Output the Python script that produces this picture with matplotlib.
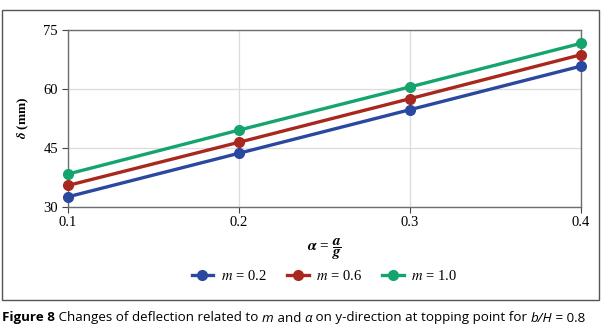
import matplotlib
matplotlib.use("Agg")
import matplotlib.pyplot as plt
from matplotlib.patches import Rectangle

plt.rcParams["font.family"] = ["Liberation Serif", "DejaVu Serif"]
plt.rcParams["mathtext.fontset"] = "stix"

alpha = [0.1, 0.2, 0.3, 0.4]
m02 = [32.5, 43.6, 54.7, 65.8]
m06 = [35.4, 46.4, 57.5, 68.7]
m10 = [38.3, 49.5, 60.5, 71.6]
labels = [r"$m$ = 0.2", r"$m$ = 0.6", r"$m$ = 1.0"]
colors = ["#2b48a0", "#a8281e", "#14a46e"]
yticks = [30, 45, 60, 75]
xticks = [0.1, 0.2, 0.3, 0.4]

# caption pieces: (text, weight, style)
caption = [("Figure 8", "bold", "normal"), (" Changes of deflection related to ", "normal", "normal"),
           ("m", "normal", "italic"), (" and ", "normal", "normal"), ("α", "normal", "italic"),
           (" on y-direction at topping point for ", "normal", "normal"), ("b/H", "normal", "italic"),
           (" = 0.8", "normal", "normal")]

fig = plt.figure(figsize=(6.03, 3.36), dpi=100)
ax = fig.add_axes([67.7 / 603, 1 - 206.7 / 336, (581 - 67.7) / 603, (206.7 - 30) / 336])

for ys, lab, c in zip([m02, m06, m10], labels, colors):
    ax.plot(alpha, ys, color=c, lw=2.4, marker="o", ms=7, label=lab, clip_on=False, zorder=3)

ax.set_xlim(0.1, 0.4)
ax.set_ylim(30, 75)
ax.set_xticks(xticks)
ax.set_xticklabels([str(x) for x in xticks])
ax.set_yticks(yticks)
ax.grid(True, color="#dcdcdc", lw=0.9)
for s in ax.spines.values():
    s.set_color("#6e6e6e")
    s.set_linewidth(1.0)
ax.tick_params(direction="out", length=4, color="#444444", labelsize=10.5, pad=3)

ax.set_ylabel(r"$\mathbfit{\delta}$ (mm)", fontsize=9.5, fontweight="bold", labelpad=9)
ax.xaxis.set_label_coords(0.5, -0.165)
ax.set_xlabel(r"$\mathbfit{\alpha}$ = $\dfrac{\mathbfit{a}}{\mathbfit{g}}$", fontsize=11, va="top")

ax.legend(loc="center", bbox_to_anchor=(0.5, -0.39), ncol=3, frameon=False,
          fontsize=10.5, handlelength=1.5, columnspacing=1.4, handletextpad=0.5)

fig.patches.append(Rectangle((1.5 / 603, 1 - 300 / 336), 597.5 / 603, 290 / 336,
                             transform=fig.transFigure, fill=False, ec="#555555", lw=1.0))

# caption drawn piece by piece, then scaled to the reference width
cap_family = ["Open Sans", "DejaVu Sans"]
target_w = 583.0
size = 10.5
r = fig.canvas.get_renderer()
for attempt in range(2):
    x = 2.0
    texts = []
    for s, w, st in caption:
        t = fig.text(x / 603, 1 - 318 / 336, s, ha="left", va="center", fontsize=size,
                     fontweight=w, fontstyle=st, family=cap_family)
        bb = t.get_window_extent(renderer=r)
        x += bb.width
        texts.append(t)
    if attempt == 0:
        for t in texts:
            t.remove()
        size = size * target_w / (x - 2.0)

fig.savefig("out.png", dpi=100)
